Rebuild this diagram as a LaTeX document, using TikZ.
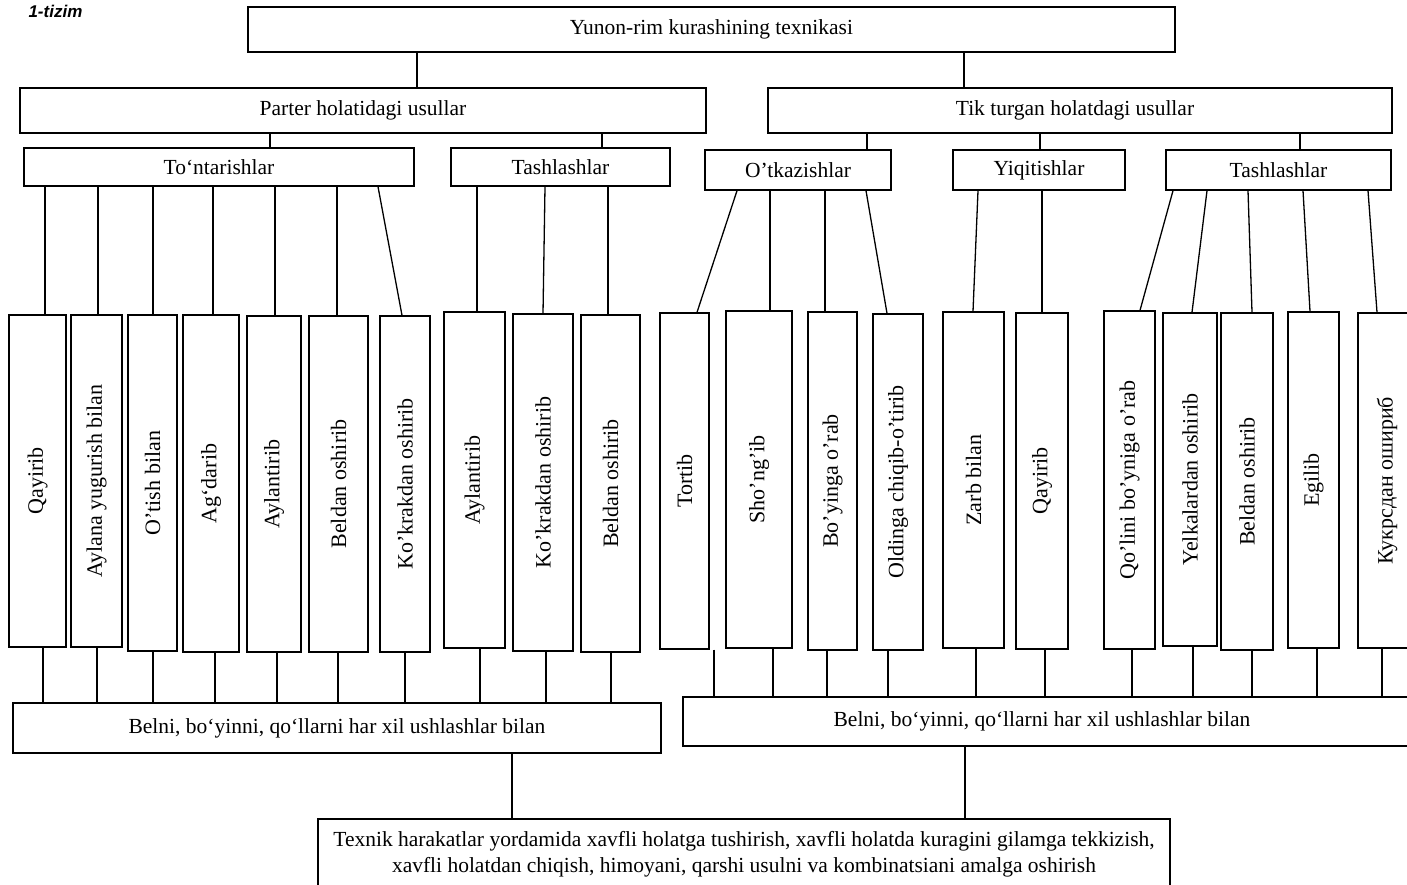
\documentclass[tikz,border=0pt]{standalone}
\usepackage{fontspec}
\usepackage{graphicx}
\setmainfont{Liberation Serif}
\newfontfamily\titlefont{Liberation Sans}

\tikzset{
	box/.style={draw, line width=1.3pt, inner sep=0pt, font=\fontsize{21.5}{26}\selectfont},
	leaf/.style={draw, line width=1.3pt, inner sep=0pt, font=\fontsize{22}{26}\selectfont},
	link/.style={line width=1.3pt},
}

\begin{document}
\begin{tikzpicture}[x=1pt, y=-1pt]
	\useasboundingbox (0,0) rectangle (1407,884);

	\node[anchor=west, font=\titlefont\bfseries\itshape\fontsize{17}{20}\selectfont] (tizim) at (25,11) {1-tizim};

	% upper levels
	\node[box, minimum width=927pt, minimum height=45pt] (root) at (711.5,29.5) {Yunon-rim kurashining texnikasi};
	\node[box, minimum width=686pt, minimum height=45pt] (parter) at (363,110.5) {Parter holatidagi usullar};
	\node[box, minimum width=624pt, minimum height=45pt] (tik) at (1080,110.5) {\hspace*{-10pt}Tik turgan holatdagi usullar};

	\node[box, minimum width=390pt, minimum height=38pt] (tont) at (219,167) {To`ntarishlar};
	\node[box, minimum width=219pt, minimum height=38pt] (tash1) at (560.5,167) {Tashlashlar};
	\node[box, minimum width=186pt, minimum height=40pt] (otk) at (798,170) {O'tkazishlar};
	\node[box, minimum width=172pt, minimum height=40pt] (yiq) at (1039,170) {Yiqitishlar};
	\node[box, minimum width=225pt, minimum height=40pt] (tash2) at (1278.5,170) {Tashlashlar};

	\draw[link] (417,0 |- root.south) -- (417,0 |- parter.north);
	\draw[link] (964,0 |- root.south) -- (964,0 |- tik.north);
	\draw[link] (270,0 |- parter.south) -- (270,0 |- tont.north);
	\draw[link] (602,0 |- parter.south) -- (602,0 |- tash1.north);
	\draw[link] (867,0 |- tik.south) -- (867,0 |- otk.north);
	\draw[link] (1040,0 |- tik.south) -- (1040,0 |- yiq.north);
	\draw[link] (1300,0 |- tik.south) -- (1300,0 |- tash2.north);

	% vertical boxes
	\foreach \n/\xa/\xb/\ya/\yb/\t in {
		l1/9/66/315/647/Qayirib,
		l2/71/122/315/647/Aylana yugurish bilan,
		l3/128/177/315/651/O'tish bilan,
		l4/183/239/315/652/Ag`darib,
		l5/247/301/316/652/Aylantirib,
		l6/309/368/316/652/Beldan oshirib,
		l7/380/430/316/652/Ko'krakdan oshirib,
		l8/444/505/312/648/Aylantirib,
		l9/513/573/314/651/Ko'krakdan oshirib,
		l10/581/640/315/652/Beldan oshirib,
		l11/660/709/313/649/Tortib,
		l12/726/792/311/648/Sho'ng'ib,
		l13/808/857/312/650/Bo'yinga o'rab,
		l14/873/923/314/650/Oldinga chiqib-o'tirib,
		l15/943/1004/312/648/Zarb bilan,
		l16/1016/1068/313/649/Qayirib,
		l17/1104/1155/311/649/Qo'lini bo'yniga o'rab,
		l18/1163/1217/313/646/Yelkalardan oshirib,
		l19/1221/1273/313/650/Beldan oshirib,
		l20/1288/1339/312/648/Egilib,
		l21/1358/1416/313/648/Кукрсдан ошириб}
	{
		\node[leaf, minimum width={(\xb-\xa)*1pt}, minimum height={(\yb-\ya)*1pt}] (\n) at ({(\xa+\xb)/2},{(\ya+\yb)/2}) {\rotatebox{90}{\t}};
	}

	% lower levels
	\node[box, minimum width=648pt, minimum height=50pt] (belL) at (337,728) {Belni, bo`yinni, qo`llarni har xil ushlashlar bilan};
	\node[box, minimum width=737pt, minimum height=49pt] (belR) at (1051.5,721.5) {\hspace*{-19pt}Belni, bo`yinni, qo`llarni har xil ushlashlar bilan};
	\node[box, minimum width=852pt, minimum height=70pt, align=center] (fin) at (744,854)
		{Texnik harakatlar yordamida xavfli holatga tushirish, xavfli holatda kuragini gilamga tekkizish,\\
		xavfli holatdan chiqish, himoyani, qarshi usulni va kombinatsiani amalga oshirish};

	% connectors parent -> box -> lower box
	\foreach \p/\l/\xt/\xl/\xb/\b in {
		tont/l1/45/45/43/belL, tont/l2/98/98/97/belL, tont/l3/153/153/153/belL,
		tont/l4/213/213/215/belL, tont/l5/275/275/277/belL, tont/l6/337/337/338/belL,
		tont/l7/378/402/405/belL,
		tash1/l8/477/477/480/belL, tash1/l9/545/543/546/belL, tash1/l10/608/608/611/belL,
		otk/l11/737/697/714/belR, otk/l12/770/770/773/belR, otk/l13/825/825/827/belR,
		otk/l14/866/887/888/belR,
		yiq/l15/978/973/976/belR, yiq/l16/1042/1042/1045/belR,
		tash2/l17/1173/1140/1132/belR, tash2/l18/1207/1192/1193/belR, tash2/l19/1248/1252/1252/belR,
		tash2/l20/1303/1310/1317/belR, tash2/l21/1368/1377/1382/belR}
	{
		\draw[link] (\xt,0 |- \p.south) -- (\xl,0 |- \l.north);
		\draw[link] (\xb,0 |- \l.south) -- (\xb,0 |- \b.north);
	}

	\draw[link] (512,0 |- belL.south) -- (512,0 |- fin.north);
	\draw[link] (965,0 |- belR.south) -- (965,0 |- fin.north);
\end{tikzpicture}
\end{document}
